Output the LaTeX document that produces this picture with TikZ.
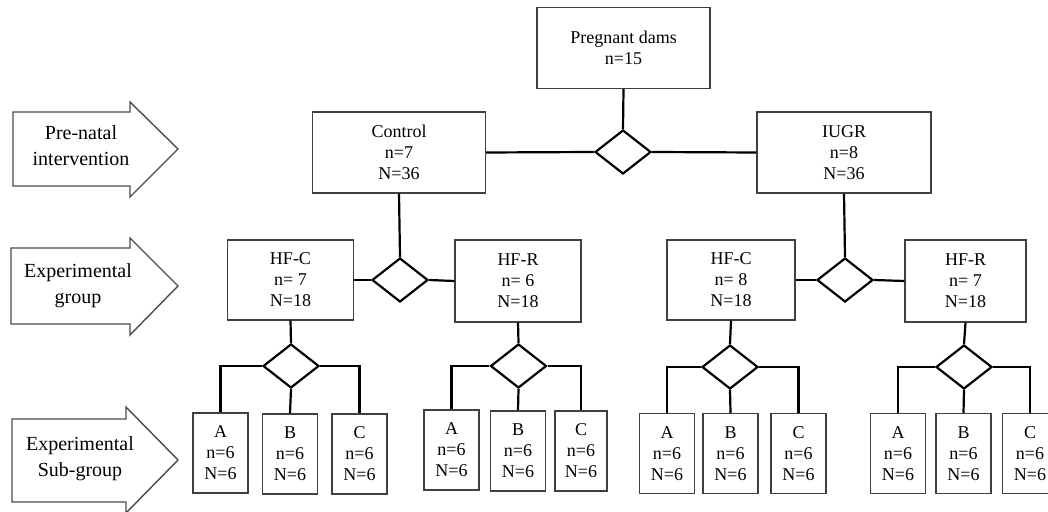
\documentclass[tikz,border=0pt]{standalone}
\usepackage{fontspec}
\setmainfont{Liberation Serif}
\usetikzlibrary{shapes.geometric}
\begin{document}
\begin{tikzpicture}[x=0.5pt,y=-0.5pt,
  box/.style={draw=black!75, line width=0.7pt, align=center, inner sep=0pt,
    font=\fontsize{9}{10.5}\selectfont},
  big/.style={box, minimum width=86.5pt, minimum height=40.5pt},
  mid/.style={box, minimum width=63pt, minimum height=40pt},
  sub/.style={box, minimum width=27.5pt, minimum height=40pt},
  dia/.style={diamond, draw, line width=1.1pt, minimum width=28pt, minimum height=22pt, inner sep=0pt},
  conn/.style={line width=1.1pt},
  arr/.style={draw=black!70, line width=0.7pt},
  arrtxt/.style={align=center, font=\fontsize{10}{13}\selectfont}]
\useasboundingbox (0,0) rectangle (1048,512);
% side arrows
\draw[arr] (13,112) -- (130,112) -- (130,102) -- (178,149) -- (130,197) -- (130,186) -- (13,186) -- cycle;
\node[arrtxt] (t1) at (81,146) {Pre-natal\\intervention};
\draw[arr] (11,248) -- (130,248) -- (130,238) -- (178,286) -- (130,335) -- (130,324) -- (11,324) -- cycle;
\node[arrtxt] (t2) at (78,286) {Experimental\\group};
\draw[arr] (12,419) -- (126,419) -- (126,407) -- (178,460) -- (126,513) -- (126,502) -- (12,502) -- cycle;
\node[arrtxt] (t3) at (80,459) {Experimental\\Sub-group};
% top level
\node[box, minimum width=86.5pt, minimum height=40.5pt] (dams) at (623.5,48) {Pregnant dams\\n=15};
\node[dia] (d0) at (623,152) {};
\node[big] (ctrl) at (399,152.5) {Control\\n=7\\N=36};
\node[big, minimum width=87pt] (iugr) at (844,152.5) {IUGR\\n=8\\N=36};
\draw[conn] (dams.south) -- (d0.north);
\draw[conn] (ctrl.east) -- (d0.west);
\draw[conn] (d0.east) -- (iugr.west);
% second level
\node[mid] (hfc1) at (290.5,280) {HF-C\\n= 7\\N=18};
\node[mid, minimum height=41pt] (hfr1) at (518,281) {HF-R\\n= 6\\N=18};
\node[mid, minimum width=64pt] (hfc2) at (731,280) {HF-C\\n= 8\\N=18};
\node[mid, minimum width=60.5pt, minimum height=41pt] (hfr2) at (965.5,281) {HF-R\\n= 7\\N=18};
\node[dia] (d1) at (400,280) {};
\node[dia] (d2) at (845,280) {};
\draw[conn] (ctrl.south) -- (d1.north);
\draw[conn] (d1.west) -- (hfc1.east);
\draw[conn] (d1.east) -- (hfr1.west);
\draw[conn] (iugr.south) -- (d2.north);
\draw[conn] (d2.west) -- (hfc2.east);
\draw[conn] (d2.east) -- (hfr2.west);
% sub diamonds
\node[dia] (s1) at (291,366) {};
\node[dia] (s2) at (518.5,366) {};
\node[dia] (s3) at (730,367) {};
\node[dia] (s4) at (964,367) {};
\draw[conn] (hfc1.south) -- (s1.north);
\draw[conn] (hfr1.south) -- (s2.north);
\draw[conn] (hfc2.south) -- (s3.north);
\draw[conn] (hfr2.south) -- (s4.north);
% sub boxes
\node[sub] (a1) at (220.5,453) {A\\n=6\\N=6};
\node[sub] (b1) at (290,454) {B\\n=6\\N=6};
\node[sub] (c1) at (359.5,454) {C\\n=6\\N=6};
\node[sub] (a2) at (451.5,450) {A\\n=6\\N=6};
\node[sub] (b2) at (518,451) {B\\n=6\\N=6};
\node[sub, minimum width=26pt] (c2) at (581,451) {C\\n=6\\N=6};
\node[sub] (a3) at (667,453.5) {A\\n=6\\N=6};
\node[sub] (b3) at (730.5,453.5) {B\\n=6\\N=6};
\node[sub] (c3) at (798.5,453.5) {C\\n=6\\N=6};
\node[sub] (a4) at (898,453.5) {A\\n=6\\N=6};
\node[sub] (b4) at (963.5,453.5) {B\\n=6\\N=6};
\node[sub] (c4) at (1030,453.5) {C\\n=6\\N=6};
\foreach \s/\a/\b/\c in {s1/a1/b1/c1, s2/a2/b2/c2, s3/a3/b3/c3, s4/a4/b4/c4}{
  \draw[conn] (\s.west) -| (\a.north);
  \draw[conn] (\s.east) -| (\c.north);
  \draw[conn] (\s.south) -- (\b.north);
}
\end{tikzpicture}
\end{document}
